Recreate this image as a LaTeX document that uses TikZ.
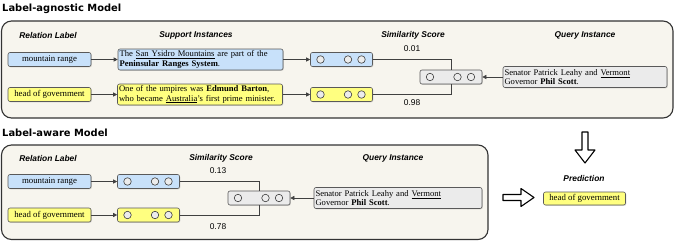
\documentclass[tikz,border=0pt]{standalone}
\usepackage{fontspec}
\setmainfont{Liberation Serif}
\newfontfamily\hdrfont{Liberation Sans}
\newfontfamily\ttlfont{DejaVu Sans}
\usetikzlibrary{arrows.meta,shadows}
\definecolor{cream}{HTML}{F7F5EE}
\definecolor{lblue}{HTML}{C8E1FA}
\definecolor{lyel}{HTML}{FFFF80}
\definecolor{lgray}{HTML}{EBEBEB}
\begin{document}
\begin{tikzpicture}[x=1pt,y=-1pt,
  outerbox/.style={draw=black!80,line width=1.1pt,rounded corners=10pt,fill=cream},
  shbox/.style={draw=black!65,line width=0.6pt,rounded corners=2pt,inner sep=1.2pt,
     drop shadow={shadow xshift=0.8pt,shadow yshift=-0.8pt,opacity=0.3}},
  lab/.style={shbox,minimum width=83pt,minimum height=14pt,font=\fontsize{8.8}{9.5}\selectfont},
  emb/.style={shbox,minimum width=62pt,minimum height=14pt},
  sup/.style={shbox,minimum width=165pt,minimum height=21pt,text width=162pt,align=left,font=\fontsize{8.6}{9.4}\selectfont},
  circ/.style={circle,draw=black!75,line width=0.6pt,fill=gray!15,minimum size=7.5pt,inner sep=0pt},
  hdr/.style={font=\hdrfont\bfseries\itshape\fontsize{8.4}{10}\selectfont},
  num/.style={font=\hdrfont\fontsize{8.4}{10}\selectfont},
  ttl/.style={font=\ttlfont\bfseries\fontsize{9.9}{11}\selectfont,anchor=west,inner sep=0pt},
  conn/.style={draw=black!75,line width=0.6pt},
  arr/.style={conn,-{Triangle[length=4pt,width=4pt]}},
  fat/.style={draw=black,line width=1.1pt,fill=white,line join=round}]
\useasboundingbox (0,0) rectangle (675,242);
% ---------- top: label-agnostic ----------
\node[ttl] (t1) at (2,9) {Label-agnostic Model};
\draw[outerbox] (1.5,21) rectangle (673,118);
\node[hdr] (h1) at (48,35) {Relation Label};
\node[hdr] (h2) at (196,35) {Support Instances};
\node[hdr] (h3) at (413,35) {Similarity Score};
\node[hdr] (h4) at (585,35) {Query Instance};
\node[lab,fill=lblue] (l1) at (49.5,59.5) {mountain range};
\node[lab,fill=lyel] (l2) at (49.5,94.5) {head of government};
\node[sup,fill=lblue] (s1) at (200.5,59.5) {The \underline{San Ysidro Mountains} are part of the\\\textbf{Peninsular Ranges System}.};
\node[sup,fill=lyel] (s2) at (200,94.5) {One of the umpires was \textbf{Edmund Barton},\\who became \underline{Australia}'s first prime minister.};
\node[emb,fill=lblue] (e1) at (341.5,59.5) {};
\node[emb,fill=lyel] (e2) at (341.5,94.5) {};
\node[emb,fill=lgray] (g1) at (451,77) {};
\node[sup,fill=lgray,minimum width=164pt,text width=161pt] (q1) at (585,77) {Senator Patrick Leahy and \underline{Vermont}\\Governor \textbf{Phil Scott}.};
\node[num] (n1) at (412,49) {0.01};
\node[num] (n2) at (412,103) {0.98};
\draw[arr] (l1) -- (s1);
\draw[arr] (l2) -- (s2);
\draw[arr] (s1) -- (e1);
\draw[arr] (s2) -- (e2);
\draw[conn] (e1.east) -| (g1.north);
\draw[conn] (e2.east) -| (g1.south);
\draw[arr] (q1) -- (g1);
% ---------- bottom: label-aware ----------
\node[ttl] (t2) at (2,133) {Label-aware Model};
\draw[outerbox] (1.5,145) rectangle (488,239.5);
\node[hdr] (h5) at (48,158) {Relation Label};
\node[hdr] (h6) at (221,158) {Similarity Score};
\node[hdr] (h7) at (393,158) {Query Instance};
\node[lab,fill=lblue] (l3) at (49.5,181.5) {mountain range};
\node[lab,fill=lyel] (l4) at (49.5,215) {head of government};
\node[emb,fill=lblue] (e3) at (148.5,181.5) {};
\node[emb,fill=lyel] (e4) at (148.5,215) {};
\node[emb,fill=lgray] (g2) at (259,198) {};
\node[sup,fill=lgray,minimum width=168pt,text width=165pt] (q2) at (398,198) {Senator Patrick Leahy and \underline{Vermont}\\Governor \textbf{Phil Scott}.};
\node[num] (n3) at (218,171) {0.13};
\node[num] (n4) at (218,227) {0.78};
\draw[arr] (l3) -- (e3);
\draw[arr] (l4) -- (e4);
\draw[conn] (e3.east) -| (g2.north);
\draw[conn] (e4.east) -| (g2.south);
\draw[arr] (q2) -- (g2);
% circles in embedding boxes
\foreach \b in {e1,e2,g1,e3,e4,g2}{
  \foreach \dx/\k in {-21/a,6.5/b,20/c}{
    \node[circ] (\b\k) at ([xshift=\dx pt]\b.center) {};
  }
}
% ---------- prediction ----------
\draw[fat] (582,132) -- (588,132) -- (588,150) -- (595,150) -- (585,163) -- (575,150) -- (582,150) -- cycle;
\draw[fat] (503,194.5) -- (521,194.5) -- (521,188.5) -- (534,197.5) -- (521,206.5) -- (521,200.5) -- (503,200.5) -- cycle;
\node[hdr] (h8) at (584,178) {Prediction};
\node[lab,fill=lyel,minimum width=82pt,minimum height=13pt] (p1) at (584.5,198.5) {head of government};
\end{tikzpicture}
\end{document}
